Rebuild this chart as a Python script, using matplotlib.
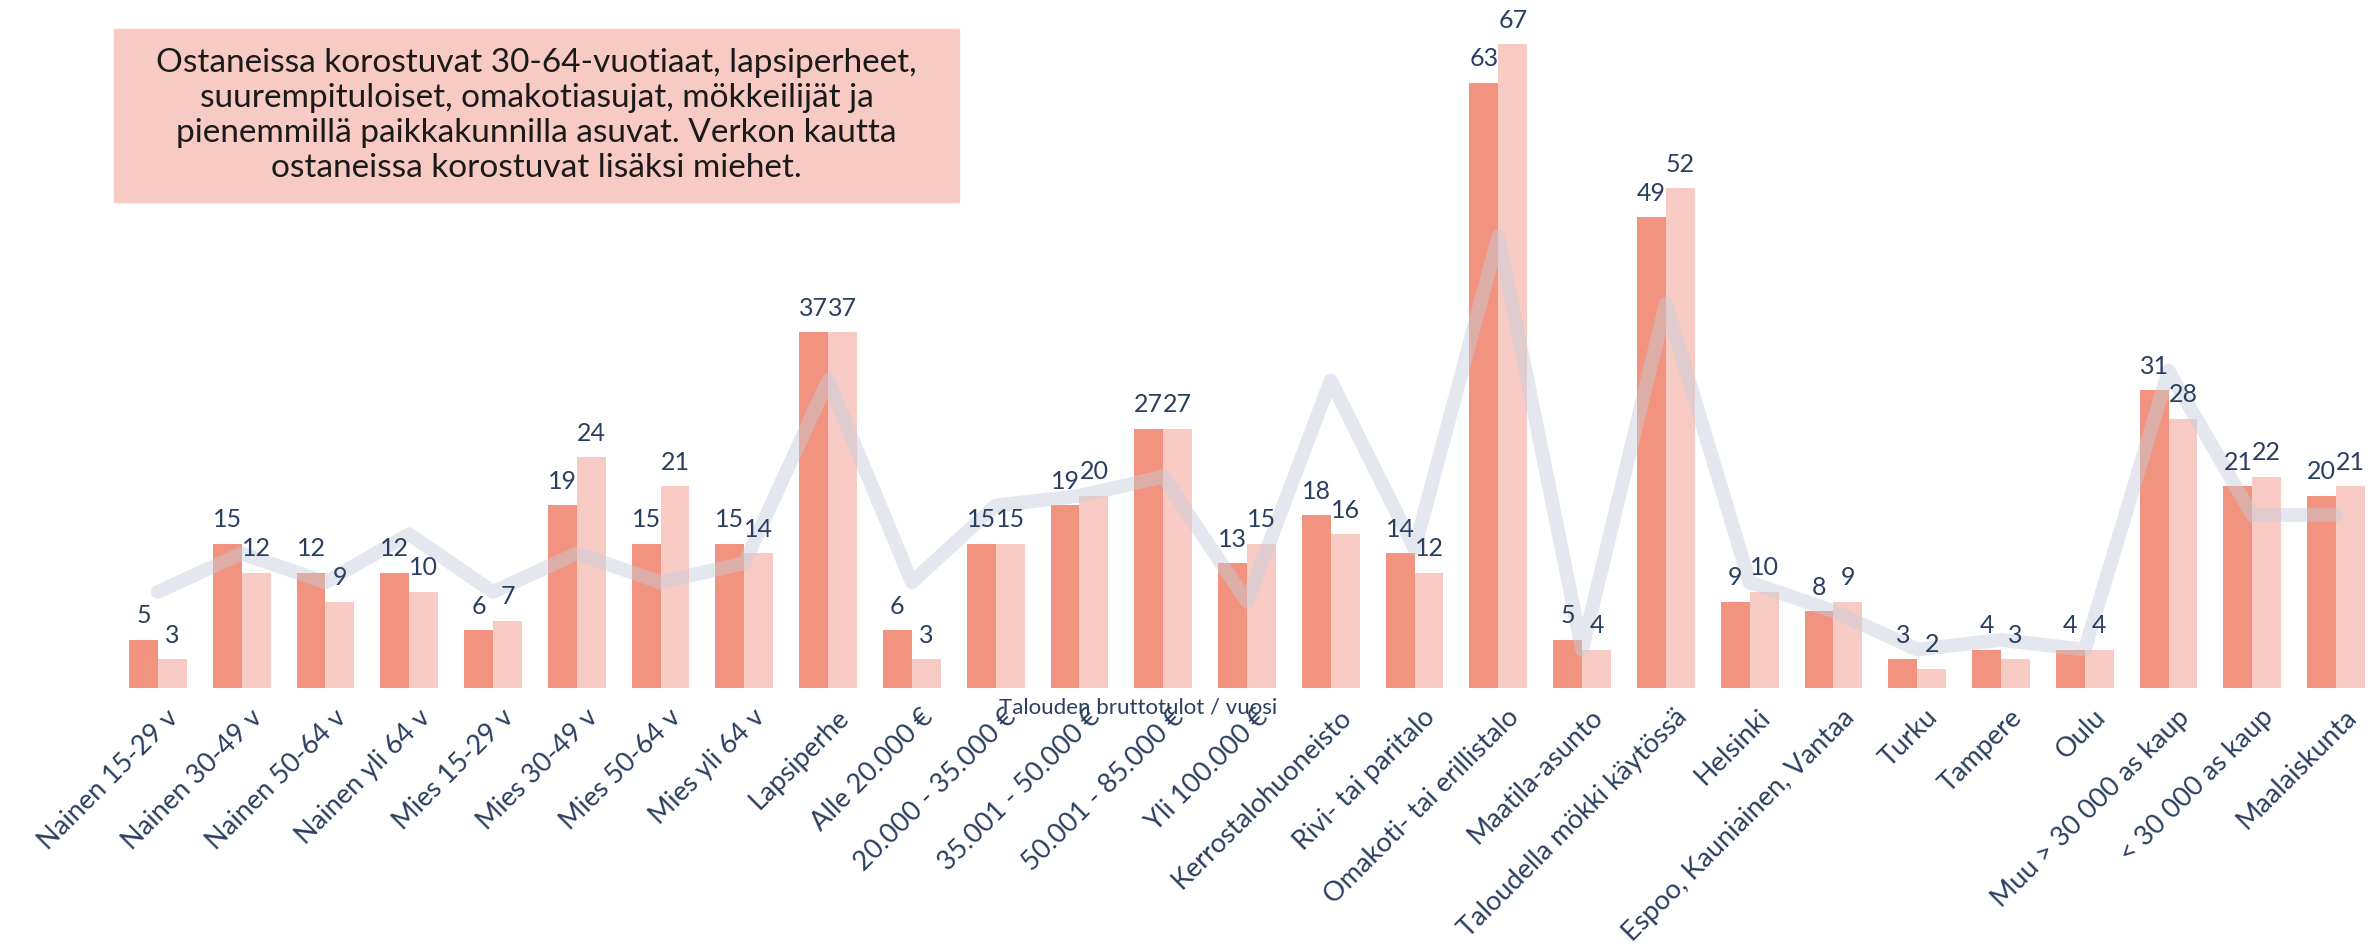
import matplotlib
matplotlib.use("Agg")
import matplotlib.pyplot as plt
import matplotlib.transforms as mtransforms
import numpy as np

plt.rcParams['font.family'] = ['Lato', 'DejaVu Sans']

categories = [
    "Nainen 15-29 v", "Nainen 30-49 v", "Nainen 50-64 v", "Nainen yli 64 v",
    "Mies 15-29 v", "Mies 30-49 v", "Mies 50-64 v", "Mies yli 64 v",
    "Lapsiperhe", "Alle 20.000 €", "20.000 - 35.000 €", "35.001 - 50.000 €",
    "50.001 - 85.000 €", "Yli 100.000 €", "Kerrostalohuoneisto",
    "Rivi- tai paritalo", "Omakoti- tai erillistalo", "Maatila-asunto",
    "Taloudella mökki käytössä", "Helsinki", "Espoo, Kauniainen, Vantaa",
    "Turku", "Tampere", "Oulu", "Muu > 30 000 as kaup", "< 30 000 as kaup",
    "Maalaiskunta",
]
ostaneet = [5, 15, 12, 12, 6, 19, 15, 15, 37, 6, 15, 19, 27, 13, 18, 14, 63,
            5, 49, 9, 8, 3, 4, 4, 31, 21, 20]
verkosta = [3, 12, 9, 10, 7, 24, 21, 14, 37, 3, 15, 20, 27, 15, 16, 12, 67,
            4, 52, 10, 9, 2, 3, 4, 28, 22, 21]
kaikki = [10, 14, 11, 16, 10, 14, 11, 13, 32, 11, 19, 20, 22, 9, 32, 14.5,
          47, 4, 40, 11, 8, 4, 5, 4, 33, 18, 18]

title_text = ("Ostaneissa korostuvat 30-64-vuotiaat, lapsiperheet,\n"
              "suurempituloiset, omakotiasujat, mökkeilijät ja\n"
              "pienemmillä paikkakunnilla asuvat. Verkon kautta\n"
              "ostaneissa korostuvat lisäksi miehet.")
income_note = "Talouden bruttotulot / vuosi"

DARK = "#f29380"
LIGHT = "#f7cac4"
LINE = "#c5cddb"
TEXT = "#2a3f5f"

W, H = 2380, 948
fig = plt.figure(figsize=(W / 100, H / 100), dpi=100)
ax_left, ax_right, base_y = 116, 2378, 688
ax = fig.add_axes([ax_left / W, (H - base_y) / H, (ax_right - ax_left) / W, base_y / H])

x = np.arange(len(categories))
bw = 0.345
ax.bar(x - bw / 2, ostaneet, width=bw, color=DARK, zorder=2)
ax.bar(x + bw / 2, verkosta, width=bw, color=LIGHT, zorder=2)
ax.plot(x, kaikki, color=LINE, alpha=0.45, lw=10, solid_capstyle='round',
        solid_joinstyle='round', zorder=3)

for xi, v in zip(x - bw / 2, ostaneet):
    ax.annotate(f"{v}", (xi, v), xytext=(0, 9), textcoords='offset points',
                ha='center', va='bottom', fontsize=18, color=TEXT, zorder=4)
for xi, v in zip(x + bw / 2, verkosta):
    ax.annotate(f"{v}", (xi, v), xytext=(0, 9), textcoords='offset points',
                ha='center', va='bottom', fontsize=18, color=TEXT, zorder=4)

ax.set_xlim(-0.5, len(categories) - 0.5)
ax.set_ylim(0, 71.6)
ax.set_yticks([])
for s in ax.spines.values():
    s.set_visible(False)
ax.set_xticks(x)
ax.set_xticklabels(categories, rotation=45, ha='right', va='top',
                   rotation_mode='anchor', fontsize=19.5, color=TEXT)
ax.tick_params(axis='x', length=0, pad=12)

# Nudge the slanted category labels a little to the right of each tick
shift = mtransforms.ScaledTranslation(8 / 100, 0, fig.dpi_scale_trans)
for lbl in ax.get_xticklabels():
    lbl.set_transform(lbl.get_transform() + shift)

ax.text(11.7, -2.0, income_note, ha='center', va='center', fontsize=16,
        color=TEXT, zorder=5)

# Summary box in the upper-left corner
fig.patches.append(plt.Rectangle((114 / W, 1 - 202 / H), (959 - 114) / W, (202 - 29) / H,
                                 transform=fig.transFigure, color=LIGHT, zorder=0))
fig.text((114 + 959) / 2 / W, 1 - (29 + 202) / 2 / H, title_text, ha='center',
         va='center', fontsize=24, color="#1a1a1a", linespacing=1.2)

fig.savefig("out.png", dpi=100)
